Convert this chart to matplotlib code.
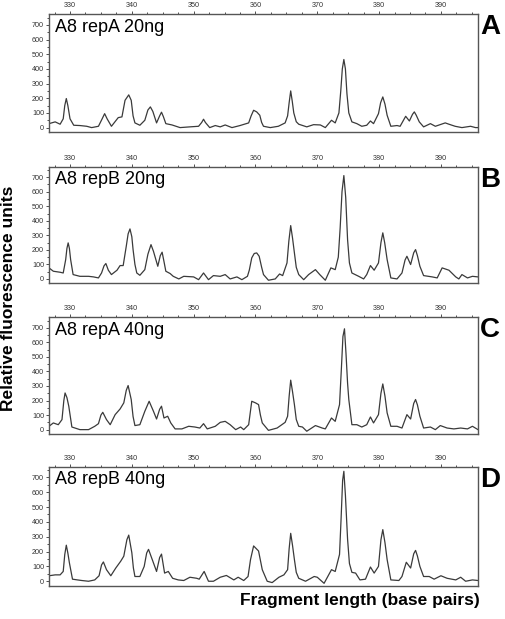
import matplotlib
matplotlib.use("Agg")
import matplotlib.pyplot as plt
from matplotlib.ticker import MultipleLocator

plt.rcParams['font.family'] = ['Liberation Sans', 'DejaVu Sans']

# ---- data: (fragment length bp, relative fluorescence units) ----
trace_A = [(326.6, 27), (327.6, 39), (328.4, 23), (328.9, 60), (329.15, 150), (329.4, 198),
           (329.65, 150), (330.0, 60), (330.6, 16), (331.6, 14), (332.7, 9), (333.5, 0),
           (334.6, 9), (335.2, 60), (335.6, 95), (336.0, 60), (336.7, 9), (337.8, 68),
           (338.4, 73), (338.9, 186), (339.5, 223), (339.9, 186), (340.2, 80), (340.5, 32),
           (341.3, 16), (342.1, 50), (342.6, 120), (343.0, 141), (343.4, 110), (344.0, 32),
           (344.5, 80), (344.8, 105), (345.1, 75), (345.5, 27), (346.5, 18), (347.8, 0),
           (349.4, 5), (350.8, 9), (351.3, 35), (351.6, 57), (351.9, 35), (352.6, 0),
           (353.5, 14), (354.3, 5), (355.1, 18), (356.2, 0), (357.5, 14), (358.9, 32),
           (359.3, 80), (359.7, 118), (360.2, 107), (360.7, 84), (361.0, 35), (361.3, 9),
           (362.4, 0), (363.7, 9), (364.8, 32), (365.2, 80), (365.45, 170), (365.7, 250),
           (365.95, 180), (366.2, 100), (366.6, 40), (367.0, 23), (368.3, 5), (369.4, 20),
           (370.5, 18), (371.3, 0), (372.3, 50), (372.9, 32), (373.5, 100), (373.8, 250),
           (374.05, 400), (374.3, 464), (374.55, 400), (374.8, 230), (375.1, 100), (375.6, 39),
           (376.4, 27), (377.2, 9), (378.0, 16), (378.6, 45), (379.1, 27), (379.9, 95),
           (380.25, 170), (380.6, 209), (380.95, 160), (381.3, 84), (381.9, 9), (382.9, 14),
           (383.4, 9), (384.3, 77), (384.9, 45), (385.4, 90), (385.7, 107), (386.0, 85),
           (386.5, 39), (387.2, 5), (388.3, 27), (389.1, 9), (390.7, 32), (391.3, 23),
           (392.3, 9), (393.4, 0), (394.8, 9), (395.6, 0), (396.0, 0)]

trace_B = [(326.6, 76), (327.3, 53), (328.4, 46), (328.9, 41), (329.3, 133), (329.5, 210),
           (329.7, 248), (329.9, 210), (330.1, 133), (330.5, 30), (331.6, 18), (333.0, 18),
           (333.8, 14), (334.6, 7), (335.1, 41), (335.5, 90), (335.8, 106), (336.2, 60),
           (336.7, 30), (337.6, 60), (338.1, 92), (338.6, 92), (339.1, 225), (339.4, 310),
           (339.7, 344), (340.0, 290), (340.2, 202), (340.5, 100), (340.8, 41), (341.3, 25),
           (342.1, 64), (342.6, 170), (343.1, 236), (343.5, 190), (344.2, 87), (344.6, 160),
           (344.9, 184), (345.2, 120), (345.5, 53), (346.2, 37), (346.7, 18), (347.6, 0),
           (348.4, 18), (350.0, 14), (350.8, -5), (351.6, 41), (352.4, -5), (353.2, 23),
           (354.3, 18), (355.1, 30), (355.9, 0), (357.0, 14), (357.8, -5), (358.7, 18),
           (359.0, 60), (359.4, 145), (359.8, 175), (360.2, 179), (360.6, 156), (361.0, 80),
           (361.3, 30), (362.1, -9), (363.2, 0), (363.9, 34), (364.4, 23), (365.1, 110),
           (365.4, 260), (365.7, 367), (366.0, 280), (366.3, 179), (366.6, 80), (367.0, 30),
           (367.8, -5), (368.6, 30), (369.7, 64), (370.4, 30), (371.3, -9), (372.2, 76),
           (372.9, 64), (373.4, 150), (373.7, 350), (374.0, 600), (374.3, 711), (374.6, 560),
           (374.9, 271), (375.2, 110), (375.6, 41), (376.7, 18), (377.5, 0), (378.0, 30),
           (378.6, 92), (379.2, 60), (379.9, 110), (380.3, 250), (380.6, 317), (380.9, 250),
           (381.3, 133), (381.9, 7), (382.9, 0), (383.7, 41), (384.2, 130), (384.5, 156),
           (385.1, 99), (385.6, 180), (385.9, 202), (386.2, 160), (386.6, 87), (387.2, 23),
           (388.6, 14), (389.4, 7), (390.2, 76), (391.3, 60), (392.4, 14), (392.9, 0),
           (393.4, 30), (394.3, 7), (395.1, 18), (396.0, 14)]

trace_C = [(326.6, 23), (327.3, 46), (328.1, 34), (328.7, 69), (329.0, 200), (329.2, 252),
           (329.5, 220), (329.8, 161), (330.3, 18), (331.6, 0), (333.0, 0), (334.0, 23),
           (334.6, 41), (335.0, 100), (335.3, 119), (335.9, 69), (336.5, 34), (337.3, 103),
           (338.1, 142), (338.7, 184), (339.1, 270), (339.4, 303), (339.9, 207), (340.2, 90),
           (340.5, 28), (341.3, 34), (342.1, 126), (342.8, 195), (343.5, 126), (344.0, 73),
           (344.5, 140), (344.8, 161), (345.2, 80), (345.8, 92), (346.3, 46), (347.0, 5),
           (348.1, 5), (349.2, 23), (350.2, 18), (351.0, 11), (351.6, 41), (352.2, 5),
           (353.5, 23), (354.3, 50), (355.1, 57), (355.9, 34), (356.8, 0), (357.6, 18),
           (358.1, 0), (358.9, 34), (359.4, 195), (360.0, 184), (360.5, 172), (360.8, 100),
           (361.1, 46), (362.1, -5), (363.5, 11), (364.8, 50), (365.2, 92), (365.45, 230),
           (365.7, 340), (366.0, 260), (366.3, 172), (366.6, 70), (367.0, 23), (367.6, 18),
           (368.3, -11), (369.7, 28), (370.8, 11), (371.3, 5), (372.3, 80), (372.9, 57),
           (373.6, 172), (373.9, 420), (374.15, 640), (374.4, 693), (374.65, 520), (374.9, 320),
           (375.1, 207), (375.6, 34), (376.4, 34), (377.2, 18), (378.0, 34), (378.6, 87),
           (379.1, 46), (379.9, 103), (380.3, 250), (380.6, 314), (380.95, 230), (381.3, 115),
           (381.9, 23), (382.9, 23), (383.7, 11), (384.5, 103), (385.1, 73), (385.6, 180),
           (385.9, 207), (386.2, 170), (386.6, 92), (387.2, 11), (388.3, 18), (389.1, 0),
           (389.9, 28), (391.0, 11), (392.1, 5), (393.2, 11), (394.3, 5), (395.1, 23),
           (396.0, 0)]

trace_D = [(326.6, 37), (327.6, 43), (328.4, 43), (328.9, 66), (329.15, 180), (329.4, 243),
           (329.65, 190), (329.9, 124), (330.4, 14), (331.2, 9), (331.9, 5), (333.0, 0),
           (334.0, 9), (334.7, 37), (335.1, 110), (335.4, 130), (335.9, 78), (336.6, 37),
           (337.4, 89), (338.2, 135), (338.7, 169), (339.2, 280), (339.5, 311), (340.0, 192),
           (340.25, 90), (340.5, 32), (341.3, 32), (342.0, 100), (342.4, 190), (342.7, 215),
           (343.4, 135), (344.0, 66), (344.5, 160), (344.8, 183), (345.3, 55), (345.9, 66),
           (346.6, 20), (347.5, 9), (348.4, 5), (349.4, 27), (350.5, 20), (350.9, 14),
           (351.7, 66), (352.4, 0), (353.2, 0), (354.3, 27), (355.3, 39), (356.5, 9),
           (357.2, 27), (358.1, 5), (358.8, 32), (359.2, 146), (359.7, 238), (360.5, 204),
           (361.1, 78), (361.9, 0), (362.7, -9), (363.8, 27), (364.6, 43), (365.2, 78),
           (365.45, 220), (365.7, 323), (366.0, 240), (366.3, 146), (366.6, 60), (367.0, 20),
           (368.1, 0), (369.5, 32), (370.0, 27), (371.1, -14), (372.3, 78), (372.9, 66),
           (373.6, 181), (373.85, 420), (374.1, 680), (374.3, 741), (374.55, 580), (374.9, 284),
           (375.2, 120), (375.6, 60), (376.2, 55), (376.9, 9), (377.8, 14), (378.6, 96),
           (379.2, 55), (379.9, 100), (380.3, 280), (380.6, 348), (380.95, 260), (381.3, 146),
           (381.9, 9), (383.2, 5), (383.7, 32), (384.4, 128), (385.1, 89), (385.6, 185),
           (385.9, 208), (386.2, 170), (386.6, 100), (387.2, 32), (388.1, 32), (388.9, 14),
           (390.0, 37), (391.0, 20), (392.4, 9), (393.2, 27), (394.0, 0), (395.1, 9),
           (396.0, 5)]

sample_labels = ["A8 repA 20ng", "A8 repB 20ng", "A8 repA 40ng", "A8 repB 40ng"]
panel_letters = ["A", "B", "C", "D"]
x_ticks = [330, 340, 350, 360, 370, 380, 390]
y_ticks = [0, 100, 200, 300, 400, 500, 600, 700]

traces = [trace_A, trace_B, trace_C, trace_D]

fig = plt.figure(figsize=(5.05, 6.19), dpi=100)
W, H = 505, 619
boxes = [(14.3, 132.0), (166.7, 283.3), (317.3, 434.0), (466.7, 585.7)]
left_px, right_px = 49, 478
edge = '#555555'
for i, (tr, (t, b)) in enumerate(zip(traces, boxes)):
    x = [p[0] for p in tr]
    y = [p[1] for p in tr]
    ax = fig.add_axes([left_px / W, 1 - b / H, (right_px - left_px) / W, (b - t) / H])
    ax.plot(x, y, color='#3a3a3a', lw=0.9, solid_joinstyle='round')
    ax.set_xlim(326.6, 396.0)
    ax.set_ylim(-30, 772)
    ax.set_xticks(x_ticks)
    ax.set_yticks(y_ticks)
    ax.xaxis.set_minor_locator(MultipleLocator(2.5))
    ax.yaxis.set_minor_locator(MultipleLocator(50))
    ax.xaxis.tick_top()
    ax.tick_params(axis='x', which='both', top=True, bottom=False, labeltop=True,
                   labelbottom=False, labelsize=5.2, colors='#333333', length=2,
                   width=0.6, pad=1.5, direction='out')
    ax.tick_params(axis='x', which='minor', length=1.5)
    ax.tick_params(axis='y', which='both', labelsize=5.2, colors='#333333', length=2,
                   width=0.6, pad=1.5, direction='out')
    ax.tick_params(axis='y', which='minor', length=1.2)
    for s in ax.spines.values():
        s.set_color(edge)
        s.set_linewidth(1.0)
    ax.text(0.013, 0.89, sample_labels[i], transform=ax.transAxes, fontsize=13,
            ha='left', va='center', color='black')
    fig.text((right_px + 2) / W, 1 - (t + 13) / H, panel_letters[i], fontsize=20,
             fontweight='bold', ha='left', va='center')

fig.text(9 / W, 1 - 298 / H, "Relative fluorescence units", rotation=90,
         fontsize=12.5, fontweight='bold', ha='center', va='center')
fig.text(480 / W, 1 - 601 / H, "Fragment length (base pairs)", fontsize=12.5,
         fontweight='bold', ha='right', va='center')

fig.savefig("out.png", dpi=100)
